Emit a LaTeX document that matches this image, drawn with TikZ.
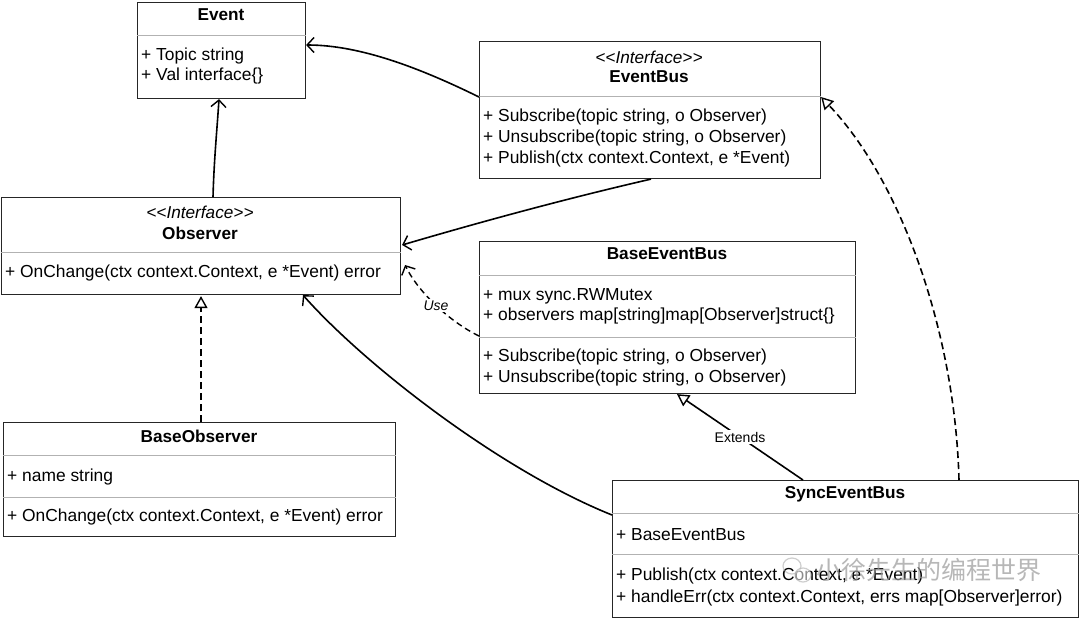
\documentclass[tikz,border=0pt]{standalone}
\usepackage{fontspec}
\setmainfont{Liberation Sans}
\newfontfamily\cjkfont{Noto Sans CJK SC}
\usetikzlibrary{arrows.meta,calc}

\tikzset{
  classbox/.style={draw=black!85, line width=1.1pt, fill=white, rectangle, inner sep=0pt, anchor=north west},
  sepline/.style={draw=black!30, line width=1pt},
  title/.style={font=\fontsize{17.2}{20}\selectfont\bfseries, inner sep=0pt},
  stereo/.style={font=\fontsize{17.2}{20}\selectfont\itshape, inner sep=0pt},
  member/.style={font=\fontsize{17.4}{20}\selectfont, inner sep=0pt, anchor=west},
  assoc/.style={draw=black, line width=1.6pt, -{Straight Barb[length=7pt,width=15pt,line width=1.4pt]}},
  usedep/.style={draw=black, line width=1.4pt, dash pattern=on 6pt off 4pt, -{Straight Barb[length=7pt,width=15pt,line width=1.4pt]}},
  realize/.style={draw=black, line width=1.6pt, dash pattern=on 7pt off 4pt, -{Triangle[open,length=12pt,width=13pt,line width=1.4pt,fill=white]}},
  inherit/.style={draw=black, line width=1.6pt, -{Triangle[open,length=12pt,width=13pt,line width=1.4pt,fill=white]}},
  edgelabel/.style={font=\fontsize{14}{16}\selectfont, fill=white, inner sep=1.5pt},
}

\begin{document}
\begin{tikzpicture}[x=1pt,y=1pt]
\useasboundingbox (0,0) rectangle (1080,-619);

% ---------- Event ----------
\node[classbox, minimum width=168pt, minimum height=96pt] (event) at (137,-2) {};
\draw[sepline] ($(event.north west)+(0,-33)$) -- ($(event.north east)+(0,-33)$);
\node[title] (event-t) at (221,-15) {Event};
\node[member] (event-a1) at (141,-56) {+ Topic string};
\node[member] (event-a2) at (141,-76) {+ Val interface\{\}};

% ---------- EventBus ----------
\node[classbox, minimum width=341pt, minimum height=137pt] (ebus) at (479,-41) {};
\draw[sepline] ($(ebus.north west)+(0,-55)$) -- ($(ebus.north east)+(0,-55)$);
\node[stereo] (ebus-s) at (649,-57) {<{}<Interface>{}>};
\node[title] (ebus-t) at (649,-77) {EventBus};
\node[member] (ebus-m1) at (483,-117) {+ Subscribe(topic string, o Observer)};
\node[member] (ebus-m2) at (483,-138) {+ Unsubscribe(topic string, o Observer)};
\node[member] (ebus-m3) at (483,-159) {+ Publish(ctx context.Context, e *Event)};

% ---------- Observer ----------
\node[classbox, minimum width=399pt, minimum height=97pt] (obs) at (1,-197) {};
\draw[sepline] ($(obs.north west)+(0,-55)$) -- ($(obs.north east)+(0,-55)$);
\node[stereo] (obs-s) at (200,-212) {<{}<Interface>{}>};
\node[title] (obs-t) at (200,-233) {Observer};
\node[member] (obs-m1) at (5,-273) {+ OnChange(ctx context.Context, e *Event) error};

% ---------- BaseEventBus ----------
\node[classbox, minimum width=376pt, minimum height=152pt] (beb) at (479,-241) {};
\draw[sepline] ($(beb.north west)+(0,-34)$) -- ($(beb.north east)+(0,-34)$);
\draw[sepline] ($(beb.north west)+(0,-96)$) -- ($(beb.north east)+(0,-96)$);
\node[title] (beb-t) at (667,-254) {BaseEventBus};
\node[member] (beb-a1) at (483,-296) {+ mux sync.RWMutex};
\node[member] (beb-a2) at (483,-316) {+ observers map[string]map[Observer]struct\{\}};
\node[member] (beb-m1) at (483,-357) {+ Subscribe(topic string, o Observer)};
\node[member] (beb-m2) at (483,-378) {+ Unsubscribe(topic string, o Observer)};

% ---------- BaseObserver ----------
\node[classbox, minimum width=392pt, minimum height=114pt] (bobs) at (3,-422) {};
\draw[sepline] ($(bobs.north west)+(0,-33)$) -- ($(bobs.north east)+(0,-33)$);
\draw[sepline] ($(bobs.north west)+(0,-75)$) -- ($(bobs.north east)+(0,-75)$);
\node[title] (bobs-t) at (199,-436) {BaseObserver};
\node[member] (bobs-a1) at (7,-477) {+ name string};
\node[member] (bobs-m1) at (7,-517) {+ OnChange(ctx context.Context, e *Event) error};

% ---------- SyncEventBus ----------
\node[classbox, minimum width=466pt, minimum height=137pt] (seb) at (612,-480) {};
\draw[sepline] ($(seb.north west)+(0,-33)$) -- ($(seb.north east)+(0,-33)$);
\draw[sepline] ($(seb.north west)+(0,-74)$) -- ($(seb.north east)+(0,-74)$);
\node[title] (seb-t) at (845,-494) {SyncEventBus};
\node[member] (seb-a1) at (616,-535) {+ BaseEventBus};
\node[member] (seb-m1) at (616,-576) {+ Publish(ctx context.Context, e *Event)};
\node[member] (seb-m2) at (616,-598) {+ handleErr(ctx context.Context, errs map[Observer]error)};

% ---------- connectors ----------
% EventBus uses Event
\draw[assoc] ($(ebus.north west)+(0,-56)$) .. controls (420,-68) and (360,-45) .. ($(event.north east)+(0,-43)$);
% Observer uses Event
\draw[assoc] ($(obs.north west)+(212,0)$) .. controls (214,-160) and (217,-130) .. ($(event.south west)+(82,0)$);
% EventBus depends on Observer
\draw[assoc] ($(ebus.south west)+(172,0)$) .. controls (560,-200) and (470,-225) .. ($(obs.north east)+(1,-48)$);
% BaseEventBus uses Observer
\draw[usedep] ($(beb.north west)+(0,-95)$) .. controls (450,-322) and (418,-292) .. ($(obs.north east)+(4,-68)$)
  node[edgelabel, pos=0.5] (use-l) {\itshape Use};
% SyncEventBus calls Observer
\draw[assoc] ($(seb.north west)+(0,-35)$) .. controls (500,-470) and (365,-365) .. ($(obs.south west)+(302,0)$);
% BaseObserver realizes Observer
\draw[realize] ($(bobs.north west)+(198,0)$) -- ($(obs.south west)+(200,-1)$);
% SyncEventBus extends BaseEventBus
\draw[inherit] ($(seb.north west)+(191,0)$) -- ($(beb.south west)+(198,0)$)
  node[edgelabel, pos=0.5] (ext-l) {Extends};
% SyncEventBus realizes EventBus
\draw[realize] ($(seb.north west)+(347,0)$) .. controls (955,-330) and (900,-180) .. ($(ebus.north east)+(0,-56)$);

% ---------- watermark ----------
\begin{scope}[opacity=0.55, draw=black!35, line width=1.2pt]
  \draw (792,-566) ellipse [x radius=9pt, y radius=8pt];
  \draw[fill=white] (803,-575) ellipse [x radius=8pt, y radius=7pt];
\end{scope}
\node[font=\cjkfont\fontsize{25}{28}\selectfont, text=black!40, opacity=0.7, anchor=west, inner sep=0pt] (wm) at (816,-570) {小徐先生的编程世界};
\end{tikzpicture}
\end{document}
